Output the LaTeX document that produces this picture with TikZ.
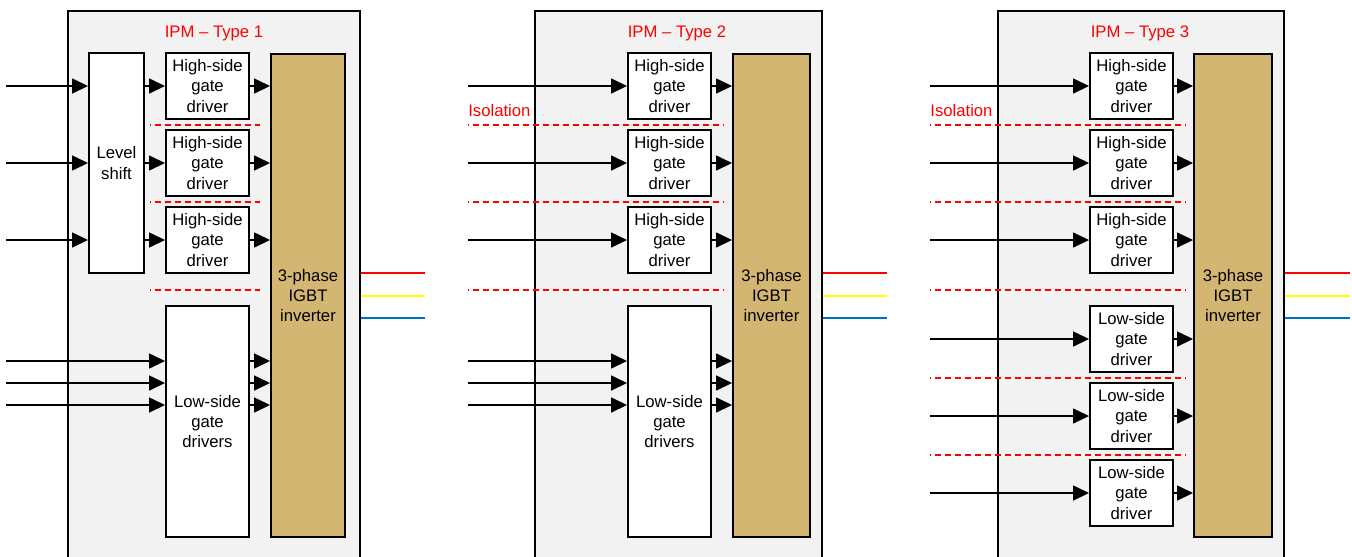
\documentclass[tikz,border=0pt]{standalone}
\usepackage{fontspec}
\setmainfont{Liberation Sans}
\usetikzlibrary{arrows.meta,positioning}
\definecolor{panelgray}{RGB}{242,242,242}
\definecolor{igbttan}{RGB}{212,182,115}
\definecolor{isored}{RGB}{255,0,0}
\definecolor{phaseyellow}{RGB}{255,255,0}
\definecolor{phaseblue}{RGB}{0,112,192}

\begin{document}
\begin{tikzpicture}[x=0.02cm, y=-0.02cm,
  every node/.style={font=\fontsize{9.5pt}{11.6pt}\selectfont},
  panel/.style={draw, fill=panelgray, line width=1.1pt, minimum height=11cm, anchor=north west, inner sep=0pt},
  drvbox/.style={draw, fill=white, line width=1.1pt, minimum width=1.66cm, minimum height=1.32cm, align=center, inner sep=0pt},
  igbt/.style={draw, fill=igbttan, line width=1.1pt, minimum height=9.66cm, align=center, inner sep=0pt},
  sig/.style={-{Triangle[length=0.32cm,width=0.3cm]}, line width=0.85pt},
  isoline/.style={isored, line width=0.85pt, dash pattern=on 0.12cm off 0.08cm, dash phase=0.1cm},
  phase/.style={line width=0.85pt},
  title/.style={text=isored, anchor=base}]
\clip (0,0) rectangle (1352,556);

% Type 1
\node[panel, minimum width=5.84cm] (p1) at (67,10) {};
\node[title] (t1) at (214,37) {IPM – Type 1};
\node[drvbox, minimum width=1.1cm, minimum height=4.4cm] (ls1) at (116.5,163) {Level\\shift};
\foreach \n/\y in {a/86,b/163,c/240}
  \node[drvbox] (hs1\n) at (207.5,\y) {High-side\\gate\\driver};
\node[igbt, minimum width=1.48cm] (ig1) at (308,295.5) {3-phase\\IGBT\\inverter};
\node[drvbox, minimum height=4.62cm] (lo1) at (207.5,421.5) {Low-side\\gate\\drivers};
\foreach \n/\y in {a/86,b/163,c/240} {
  \coordinate (in1\n) at (6,\y);
  \draw[sig] (in1\n) -- (in1\n -| ls1.west);
  \draw[sig] (in1\n -| ls1.east) -- (hs1\n.west);
  \draw[sig] (hs1\n.east) -- (hs1\n.east -| ig1.west);
}
\foreach \n/\y in {a/361,b/383,c/405} {
  \coordinate (lin1\n) at (6,\y);
  \draw[sig] (lin1\n) -- (lin1\n -| lo1.west);
  \draw[sig] (lin1\n -| lo1.east) -- (lin1\n -| ig1.west);
}
\foreach \y in {125,202,290}
  \draw[isoline] (150,\y) -- (260,\y);
\foreach \c/\y in {isored/273,phaseyellow/296,phaseblue/318} {
  \coordinate (out1\c) at (425,\y);
  \draw[phase, \c] (out1\c -| p1.east) -- (out1\c);
}

% Type 2
\node[panel, minimum width=5.74cm] (p2) at (534,10) {};
\node[title] (t2) at (677,37) {IPM – Type 2};
\node[title, anchor=base west, inner sep=0pt] (iso2) at (468,116) {Isolation};
\foreach \n/\y in {a/86,b/163,c/240}
  \node[drvbox] (hs2\n) at (669.5,\y) {High-side\\gate\\driver};
\node[igbt, minimum width=1.54cm] (ig2) at (771.5,295.5) {3-phase\\IGBT\\inverter};
\node[drvbox, minimum height=4.62cm] (lo2) at (669.5,421.5) {Low-side\\gate\\drivers};
\foreach \n/\y in {a/86,b/163,c/240} {
  \coordinate (in2\n) at (468,\y);
  \draw[sig] (in2\n) -- (hs2\n.west);
  \draw[sig] (hs2\n.east) -- (hs2\n.east -| ig2.west);
}
\foreach \n/\y in {a/361,b/383,c/405} {
  \coordinate (lin2\n) at (468,\y);
  \draw[sig] (lin2\n) -- (lin2\n -| lo2.west);
  \draw[sig] (lin2\n -| lo2.east) -- (lin2\n -| ig2.west);
}
\foreach \y in {125,202,290}
  \draw[isoline] (468,\y) -- (723,\y);
\foreach \c/\y in {isored/273,phaseyellow/296,phaseblue/318} {
  \coordinate (out2\c) at (887,\y);
  \draw[phase, \c] (out2\c -| p2.east) -- (out2\c);
}

% Type 3
\node[panel, minimum width=5.72cm] (p3) at (997,10) {};
\node[title] (t3) at (1140,37) {IPM – Type 3};
\node[title, anchor=base west, inner sep=0pt] (iso3) at (930,116) {Isolation};
\foreach \n/\y in {a/86,b/163,c/240}
  \node[drvbox] (hs3\n) at (1131.5,\y) {High-side\\gate\\driver};
\foreach \n/\y in {a/339,b/416,c/493}
  \node[drvbox] (lo3\n) at (1131.5,\y) {Low-side\\gate\\driver};
\node[igbt, minimum width=1.56cm] (ig3) at (1233,295.5) {3-phase\\IGBT\\inverter};
\foreach \n/\y in {a/86,b/163,c/240} {
  \coordinate (in3\n) at (930,\y);
  \draw[sig] (in3\n) -- (hs3\n.west);
  \draw[sig] (hs3\n.east) -- (hs3\n.east -| ig3.west);
}
\foreach \n/\y in {a/339,b/416,c/493} {
  \coordinate (lin3\n) at (930,\y);
  \draw[sig] (lin3\n) -- (lo3\n.west);
  \draw[sig] (lo3\n.east) -- (lo3\n.east -| ig3.west);
}
\foreach \y in {125,202,290,378,455}
  \draw[isoline] (930,\y) -- (1185,\y);
\foreach \c/\y in {isored/273,phaseyellow/296,phaseblue/318} {
  \coordinate (out3\c) at (1350,\y);
  \draw[phase, \c] (out3\c -| p3.east) -- (out3\c);
}
\end{tikzpicture}
\end{document}
